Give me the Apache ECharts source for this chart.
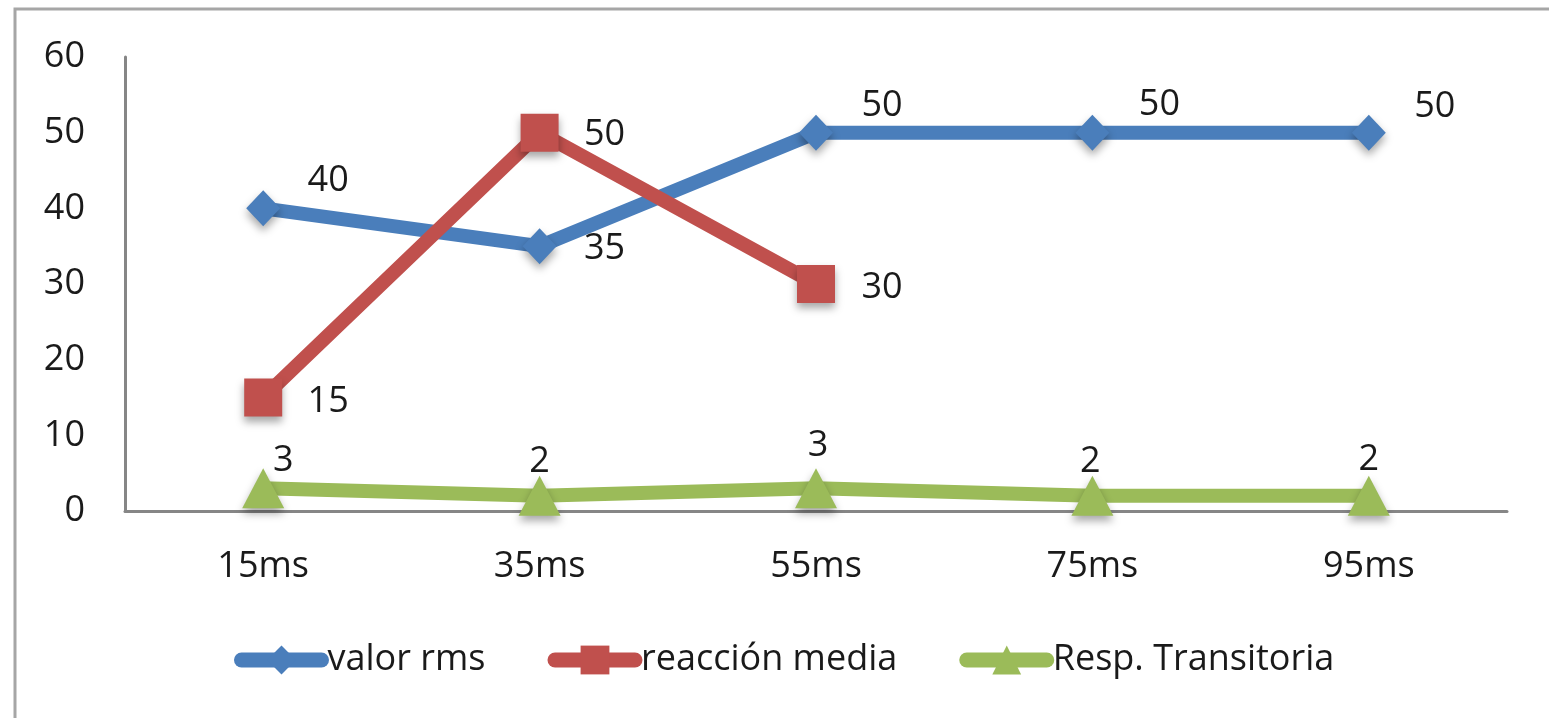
<!DOCTYPE html>
<html>
<head>
<meta charset="utf-8">
<script src="https://cdn.jsdelivr.net/npm/echarts@6/dist/echarts.min.js"></script>
<style>
  html, body { margin: 0; padding: 0; background: #fff; }
  #chart { width: 1549px; height: 718px; }
</style>
</head>
<body>
<div id="chart"></div>
<script>
// Categories and series values
const categories = ['15ms', '35ms', '55ms', '75ms', '95ms'];
const valorRms = [40, 35, 50, 50, 50];
const reaccionMedia = [15, 50, 30, null, null];
const respTransitoria = [3, 2, 3, 2, 2];
const yTicks = [0, 10, 20, 30, 40, 50, 60];

// Label offsets (px) from each point's centre
const blueOffsets = [[65, -28], [65, 3], [66, -27], [67, -28], [66, -26]];
const redOffsets = [[65, 4], [65, 2], [66, 4], [0, 0], [0, 0]];
const greenOffsets = [[20, -28], [0, -34], [2, -43], [-2, -34], [0, -36]];

const FONT = '"Open Sans"';
const FS = 36;
const TEXT = '#1a1a1a';
const BLUE = '#4a7ebb';
const RED = '#c0504d';
const GREEN = '#9bbb59';

function withLabels(values, offsets) {
  return values.map((v, i) => ({
    value: v,
    label: { offset: offsets[i] }
  }));
}

function lineSeries(name, values, offsets, color, symbol, size) {
  return {
    name: name,
    type: 'line',
    data: withLabels(values, offsets),
    symbol: symbol,
    symbolSize: size,
    showAllSymbol: true,
    connectNulls: false,
    lineStyle: { color: color, width: 14, cap: 'round', join: 'round' },
    itemStyle: {
      color: color,
      shadowColor: 'rgba(0,0,0,0.35)',
      shadowBlur: 8,
      shadowOffsetY: 5
    },
    label: {
      show: true,
      position: 'inside',
      color: TEXT,
      fontFamily: FONT,
      fontSize: FS
    },
    emphasis: { disabled: true },
    animation: false
  };
}

const chart = echarts.init(document.getElementById('chart'), null, { renderer: 'canvas' });

chart.setOption({
  backgroundColor: '#ffffff',
  animation: false,
  graphic: [{
    type: 'rect',
    shape: { x: 15, y: 9, width: 1600, height: 800 },
    style: { fill: 'none', stroke: '#a6a6a6', lineWidth: 3 },
    silent: true,
    z: -1
  }],
  grid: { left: 125, right: 42, top: 57, bottom: 207, containLabel: false },
  legend: {
    left: 229,
    top: 637,
    itemGap: 62,
    itemWidth: 80,
    itemHeight: 36,
    textStyle: { color: TEXT, fontFamily: FONT, fontSize: FS, padding: [0, 0, 0, 1] },
    lineStyle: { width: 15, cap: 'round' },
    itemStyle: { shadowBlur: 0, shadowOffsetY: 0 },
    data: ['valor rms', 'reacción media', 'Resp. Transitoria']
  },
  xAxis: {
    type: 'category',
    data: categories,
    boundaryGap: true,
    axisLine: { lineStyle: { color: '#868686', width: 3 } },
    axisTick: { show: false },
    axisLabel: { color: TEXT, fontFamily: FONT, fontSize: FS, margin: 38 }
  },
  yAxis: {
    type: 'value',
    min: yTicks[0],
    max: yTicks[yTicks.length - 1],
    interval: yTicks[1] - yTicks[0],
    axisLine: { show: true, lineStyle: { color: '#868686', width: 3 } },
    axisTick: { show: false },
    splitLine: { show: false },
    axisLabel: { color: TEXT, fontFamily: FONT, fontSize: FS, margin: 40 }
  },
  series: [
    lineSeries('valor rms', valorRms, blueOffsets, BLUE, 'diamond', [34, 36]),
    lineSeries('reacción media', reaccionMedia, redOffsets, RED, 'rect', 38),
    lineSeries('Resp. Transitoria', respTransitoria, greenOffsets, GREEN, 'triangle', [42, 40])
  ]
});
</script>
</body>
</html>
